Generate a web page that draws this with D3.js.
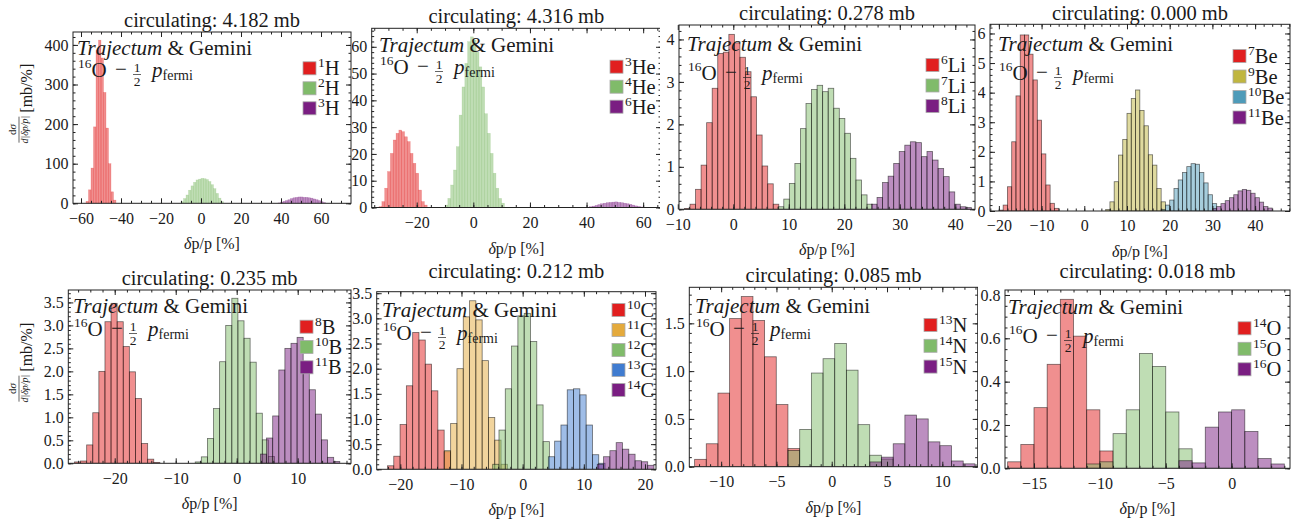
<!DOCTYPE html>
<html><head><meta charset="utf-8">
<script src="https://cdn.jsdelivr.net/npm/d3@7"></script>
<style>
body{margin:0;background:#fff}
svg{display:block}
svg text{font-family:"Liberation Serif","DejaVu Serif","Noto Serif",serif !important;fill:#1a1a1a}
</style>
</head><body><svg id="c" width="1299" height="523"></svg>
<script>
// ---------------- DATA ----------------
const panelTitles = ["circulating: 4.182 mb","circulating: 4.316 mb","circulating: 0.278 mb","circulating: 0.000 mb",
                     "circulating: 0.235 mb","circulating: 0.212 mb","circulating: 0.085 mb","circulating: 0.018 mb"];

const speciesH  = ["1H","2H","3H"];
const startsH   = [-57.5,-10,38.5];
const valuesH   = [[5,34,89,193,387,412,367,280,190,100,29,8],
                   [4,12,21,33,44,53,59,61,63,62,60,55,47,37,25,13,4],
                   [1,3,5,7,9,12,14,15,16,16,15,15,14,13,11,9,7,4,2]];

const speciesHe = ["3He","4He","6He"];
const startsHe  = [-33.3,-10,41];
const valuesHe  = [[0.3,2.2,7.2,13.4,20.2,25.2,27.7,28.9,28.3,26.4,24.6,20.2,16.5,12.8,6.5,2.2,0.9],
                   [0.9,3.4,8.4,14,22.7,34.5,45,53.8,61.9,63.7,62.5,58,52.5,45,35,27.7,20.2,12.8,7.2,3.4,1.6],
                   [0.3,0.5,0.8,1.1,1.4,1.6,1.8,1.9,2.0,2.1,1.9,1.8,1.6,1.4,1.2,0.9,0.6,0.4,0.2]];

const speciesLi = ["6Li","7Li","8Li"];
const startsLi  = [-8.8,8.1,24.9];
const valuesLi  = [[0.02,0.12,0.47,1.04,2.04,2.85,3.67,3.7,4.12,3.92,3.58,3.24,2.65,1.75,1.02,0.6,0.12],
                   [0.06,0.24,0.61,1.08,1.9,2.49,2.82,2.92,2.77,2.85,2.38,2.14,1.79,1.2,0.69,0.34,0.12],
                   [0.12,0.28,0.63,0.78,1.08,1.36,1.51,1.59,1.57,1.24,1.36,1.16,0.96,0.77,0.41,0.12,0.06,0.04]];

const speciesBe = ["7Be","9Be","10Be","11Be"];
const startsBe  = [-20,5,18,30];
const valuesBe  = [[0.03,0.2,0.82,2.34,3.89,5.95,5.95,5.3,4.43,3.07,1.93,0.88,0.26,0.09],
                   [0.05,0.31,0.99,1.89,2.42,3.3,3.8,4.09,3.4,2.88,1.9,1.55,0.76,0.31],
                   [0.05,0.2,0.37,0.76,1.05,1.3,1.5,1.6,1.58,1.3,0.95,0.55,0.25],
                   [0.08,0.15,0.25,0.35,0.45,0.55,0.68,0.73,0.7,0.6,0.45,0.3,0.15,0.1]];

const speciesB  = ["8B","10B","11B"];
const startsB   = [-26.6,-6.8,3.9];
const valuesB   = [[0.03,0.05,0.4,1.1,2.0,3.08,3.48,3.08,2.54,1.99,1.41,0.43,0.09,0.02],
                   [0.03,0.14,0.54,1.19,2.21,3.0,3.59,3.1,2.72,2.2,1.09,0.51,0.15],
                   [0.2,0.55,1.03,2.03,2.5,2.61,2.74,2.2,1.6,1.07,0.51,0.13,0.04]];

const speciesC  = ["10C","11C","12C","13C","14C"];
const startsC   = [-22.1,-12.8,-4.9,4.2,12.2];
const valuesC   = [[0.07,0.26,0.89,1.66,2.72,2.57,2.09,1.56,0.78,0.35],
                   [0.37,0.91,2.0,3.03,3.35,2.97,2.16,1.03,0.58,0.1],
                   [0.1,0.78,1.6,2.45,3.05,3.1,2.54,1.28,0.55],
                   [0.25,0.56,0.88,1.58,1.6,1.48,0.88,0.29,0.12],
                   [0.1,0.25,0.37,0.53,0.4,0.3,0.17,0.15,0.08]];

const speciesN  = ["13N","14N","15N"];
const startsN   = [-12.4,-3.95,3.45];
const valuesN   = [[0.077,0.24,0.77,1.55,1.78,1.53,1.15,0.65,0.19],
                   [0.17,0.39,0.98,1.13,1.29,1.01,0.44,0.12,0.08],
                   [0.05,0.1,0.24,0.54,0.5,0.26,0.22,0.06,0.03]];

const speciesO  = ["14O","15O","16O"];
const startsO   = [-17,-11,-4];
const valuesO   = [[0.03,0.11,0.28,0.48,0.78,0.61,0.27,0.08],
                   [0.02,0.03,0.16,0.27,0.53,0.47,0.26,0.09],
                   [0.035,0.025,0.19,0.26,0.27,0.17,0.045,0.02]];

const binWidths = [1.25,1,1,1,1,1.03,1.055,1];

const xDomains = [[-64,75],[-35.9,66.3],[-9.78,43.55],[-22.08,48.17],[-27.61,18.74],[-23.86,21.8],[-12.88,13.2],[-17.2,4.43]];
const yDomains = [[0,432.6],[0,66.9],[0,4.34],[0,6.31],[0,3.77],[0,3.53],[0,1.877],[0,0.823]];

const xTickLabels = [[-60,-40,-20,0,20,40,60],[-20,0,20,40,60],[-10,0,10,20,30,40],[-20,-10,0,10,20,30,40],
                     [-20,-10,0,10],[-20,-10,0,10,20],[-10,-5,0,5,10],[-15,-10,-5,0]];
const xMinorSteps = [5,5,2,2,2,2,1,1];
const yTickLabels = [[0,100,200,300,400],[0,10,20,30,40,50,60],[0,1,2,3,4],[0,1,2,3,4,5,6],
                     [0,0.5,1,1.5,2,2.5,3,3.5],[0,0.5,1,1.5,2,2.5,3,3.5],[0,0.5,1,1.5],[0,0.2,0.4,0.6,0.8]];
const yMinorSteps = [20,2,0.2,0.2,0.1,0.1,0.1,0.05];
const yTickFormats = ["d","d","d","d",".1f",".1f",".1f",".1f"];

const cRed="#e11f1f", cGreen="#80bb6a", cPurple="#7a1e82", cYellow="#c0b640", cTeal="#4e9bb9", cOrange="#e4aa3c", cBlue="#407cd0";
const panelColors = [[cRed,cGreen,cPurple],[cRed,cGreen,cPurple],[cRed,cGreen,cPurple],[cRed,cYellow,cTeal,cPurple],
                     [cRed,cGreen,cPurple],[cRed,cOrange,cGreen,cBlue,cPurple],[cRed,cGreen,cPurple],[cRed,cGreen,cPurple]];

const panelSpecies = [speciesH,speciesHe,speciesLi,speciesBe,speciesB,speciesC,speciesN,speciesO];
const panelStarts  = [startsH,startsHe,startsLi,startsBe,startsB,startsC,startsN,startsO];
const panelValues  = [valuesH,valuesHe,valuesLi,valuesBe,valuesB,valuesC,valuesN,valuesO];

// ---------------- LAYOUT ----------------
const FONT = "'Liberation Serif','DejaVu Serif','Noto Serif',serif";
const frames = [
 {x0:73,   x1:351,   y0:32,   y1:203.3, cx:[0,352],    cy:[0,260]},
 {x0:371.7,x1:661,   y0:28.3, y1:207.5, cx:[352,660],  cy:[0,260]},
 {x0:679,  x1:975,   y0:25,   y1:209.3, cx:[660,978],  cy:[0,260]},
 {x0:990,  x1:1290,  y0:24.3, y1:211,   cx:[978,1299], cy:[0,260]},
 {x0:68.3, x1:351,   y0:290,  y1:463.3, cx:[0,352],    cy:[260,523]},
 {x0:376.7,x1:656,   y0:291.7,y1:469.3, cx:[352,657],  cy:[260,523]},
 {x0:689.3,x1:977.7, y0:287.3,y1:466.7, cx:[657,978],  cy:[260,523]},
 {x0:1005, x1:1290,  y0:290,  y1:468.3, cx:[978,1299], cy:[260,523]}
];
const titleY = [26.5,22.7,19.5,19.5,285,278,281.7,278];
const annot = [[77,55,77],[379,52,74],[687,51,80],[998,51,80],[73,313,336],[382,317,340],[695,313,336],[1008,314,343]];
const legendPos = [[303,68.3,20],[610,66.7,20],[926,65,20.5],[1233,56,20.5],[300,326.7,20.3],[612,310,20],[924,325,20.8],[1238,328.3,20.5]];

const svg = d3.select("#c").attr("font-family",FONT);
const defs = svg.append("defs");

function addSup(textSel, label, bigSize, supSize){
  const m = label.match(/^(\d+)(.*)$/);
  textSel.append("tspan").attr("font-size",supSize).attr("dy",-8).text(m[1]);
  textSel.append("tspan").attr("font-size",bigSize).attr("dy",8).text(m[2]);
}

frames.forEach((f,pi)=>{
  defs.append("clipPath").attr("id","clip"+pi).append("rect")
    .attr("x",f.cx[0]).attr("y",f.cy[0]).attr("width",f.cx[1]-f.cx[0]).attr("height",f.cy[1]-f.cy[0]);
  defs.append("clipPath").attr("id","pclip"+pi).append("rect")
    .attr("x",f.x0).attr("y",f.y0).attr("width",f.x1-f.x0).attr("height",f.y1-f.y0);
  const g = svg.append("g").attr("clip-path","url(#clip"+pi+")").attr("font-family",FONT);
  const x = d3.scaleLinear().domain(xDomains[pi]).range([f.x0,f.x1]);
  const y = d3.scaleLinear().domain(yDomains[pi]).range([f.y1,f.y0]);
  const bw = binWidths[pi];
  const narrow = pi<2;

  // bars
  const plot = g.append("g").attr("clip-path","url(#pclip"+pi+")");
  panelValues[pi].forEach((vals,si)=>{
    const col = panelColors[pi][si];
    const st = panelStarts[pi][si];
    plot.append("g").selectAll("rect").data(vals).join("rect")
      .attr("x",(d,i)=>x(st+i*bw))
      .attr("width",(d,i)=>x(st+(i+1)*bw)-x(st+i*bw))
      .attr("y",d=>y(d))
      .attr("height",d=>y(0)-y(d))
      .attr("fill",col).attr("fill-opacity",0.5)
      .attr("stroke",narrow?col:"#000")
      .attr("stroke-opacity",narrow?0.35:0.55)
      .attr("stroke-width",narrow?0.5:0.8);
  });

  // frame
  g.append("rect").attr("x",f.x0).attr("y",f.y0).attr("width",f.x1-f.x0).attr("height",f.y1-f.y0)
    .attr("fill","none").attr("stroke","#222").attr("stroke-width",1);

  // ticks
  const xd = xDomains[pi], yd = yDomains[pi];
  const xmin = d3.range(Math.ceil(xd[0]/xMinorSteps[pi])*xMinorSteps[pi], xd[1], xMinorSteps[pi]).map(v=>+v.toFixed(4));
  const ymin = d3.range(0, yd[1], yMinorSteps[pi]).map(v=>+v.toFixed(4));
  const fmtX = d3.format("d");
  const fmtY = d3.format(yTickFormats[pi]);
  const styleAxis = sel=>{ sel.attr("font-family",FONT); sel.select(".domain").remove(); sel.selectAll("line").attr("stroke","#222");
     sel.selectAll("text").attr("font-size",16).attr("font-family",FONT).attr("fill","#1a1a1a"); };
  g.append("g").attr("transform",`translate(0,${f.y1})`)
    .call(d3.axisBottom(x).tickValues(xmin).tickSize(-2.5).tickFormat("")).call(styleAxis);
  g.append("g").attr("transform",`translate(0,${f.y1})`)
    .call(d3.axisBottom(x).tickValues(xTickLabels[pi]).tickSize(-5).tickPadding(9).tickFormat(fmtX)).call(styleAxis);
  g.append("g").attr("transform",`translate(0,${f.y0})`)
    .call(d3.axisTop(x).tickValues(xmin).tickSize(-2.5).tickFormat("")).call(styleAxis);
  g.append("g").attr("transform",`translate(0,${f.y0})`)
    .call(d3.axisTop(x).tickValues(xTickLabels[pi]).tickSize(-5).tickFormat("")).call(styleAxis);
  g.append("g").attr("transform",`translate(${f.x0},0)`)
    .call(d3.axisLeft(y).tickValues(ymin).tickSize(-2.5).tickFormat("")).call(styleAxis);
  g.append("g").attr("transform",`translate(${f.x0},0)`)
    .call(d3.axisLeft(y).tickValues(yTickLabels[pi]).tickSize(-5).tickPadding(4.5).tickFormat(fmtY)).call(styleAxis);
  g.append("g").attr("transform",`translate(${f.x1},0)`)
    .call(d3.axisRight(y).tickValues(ymin).tickSize(-2.5).tickFormat("")).call(styleAxis);
  g.append("g").attr("transform",`translate(${f.x1},0)`)
    .call(d3.axisRight(y).tickValues(yTickLabels[pi]).tickSize(-5).tickFormat("")).call(styleAxis);

  // title
  g.append("text").attr("x",(f.x0+f.x1)/2).attr("y",titleY[pi]).attr("text-anchor","middle")
    .attr("font-size",20.5).text(panelTitles[pi]);
  // x label
  const xl = g.append("text").attr("x",(f.x0+f.x1)/2).attr("y",f.y1+46).attr("text-anchor","middle").attr("font-size",16);
  xl.append("tspan").attr("font-style","italic").text("δ");
  xl.append("tspan").text("p/p [%]");

  // y label for first column
  if (pi===0 || pi===4){
    const cy = (f.y0+f.y1)/2 - 18;
    const yl = g.append("g").attr("transform",`translate(27,${cy}) rotate(-90)`);
    yl.append("text").attr("x",-13).attr("y",5).attr("font-size",16).text("[mb/%]");
    const fr = yl.append("g").attr("transform","translate(-30,0)");
    const num = fr.append("text").attr("x",0).attr("y",-11).attr("text-anchor","middle").attr("font-size",11);
    num.append("tspan").text("d");
    num.append("tspan").attr("font-style","italic").text("σ");
    fr.append("line").attr("x1",-13).attr("x2",13).attr("y1",-8).attr("y2",-8).attr("stroke","#222").attr("stroke-width",0.7);
    const den = fr.append("text").attr("x",0).attr("y",1).attr("text-anchor","middle").attr("font-size",10).attr("font-style","italic");
    den.text("d|δp/p|");
  }

  // annotation
  const [ax,b1,b2] = annot[pi];
  const t1 = g.append("text").attr("x",ax).attr("y",b1).attr("font-size",21);
  t1.append("tspan").attr("font-style","italic").text("Trajectum");
  t1.append("tspan").text(" & Gemini");
  const t2 = g.append("text").attr("x",ax+1).attr("y",b2).attr("font-size",21);
  t2.append("tspan").attr("font-size",13.5).attr("dy",-9).text("16");
  t2.append("tspan").attr("dy",9).text("O");
  g.append("text").attr("x",ax+38).attr("y",b2-1).attr("font-size",21).text("−");
  g.append("text").attr("x",ax+60).attr("y",b2-5).attr("text-anchor","middle").attr("font-size",13.5).text("1");
  g.append("line").attr("x1",ax+56).attr("x2",ax+64).attr("y1",b2-2.5).attr("y2",b2-2.5).attr("stroke","#222").attr("stroke-width",0.7);
  g.append("text").attr("x",ax+60).attr("y",b2+9).attr("text-anchor","middle").attr("font-size",13.5).text("2");
  const t3 = g.append("text").attr("x",ax+75).attr("y",b2).attr("font-size",21);
  t3.append("tspan").attr("font-style","italic").text("p");
  t3.append("tspan").attr("font-size",14).attr("dy",3).text("fermi");

  // legend
  const [lx,ly,ls] = legendPos[pi];
  panelSpecies[pi].forEach((sp,si)=>{
    const yy = ly + si*ls;
    g.append("rect").attr("x",lx).attr("y",yy-6.5).attr("width",13).attr("height",13)
      .attr("fill",panelColors[pi][si]).attr("stroke","#aaa").attr("stroke-width",0.8);
    const lt = g.append("text").attr("x",lx+15).attr("y",yy+7).attr("font-size",20.5);
    addSup(lt, sp, 20.5, 13.5);
  });
});
</script>
</body></html>
